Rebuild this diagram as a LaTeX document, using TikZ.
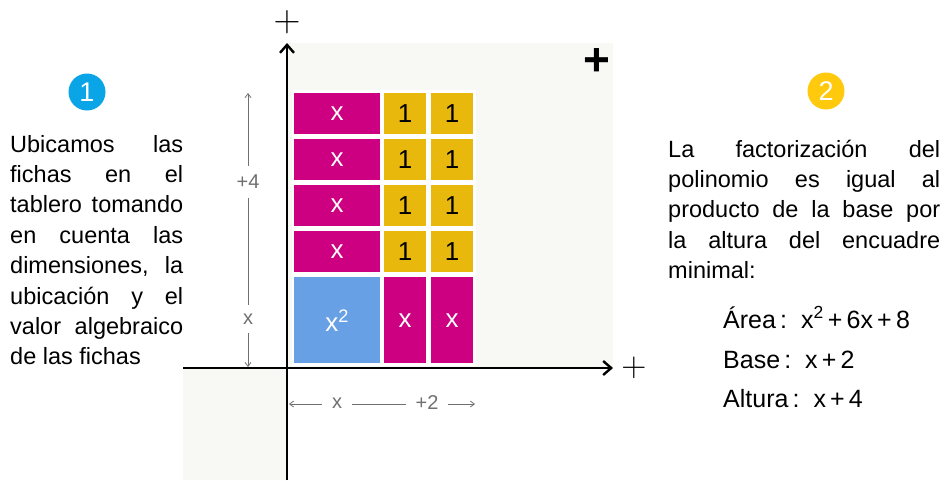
\documentclass[tikz,border=0pt]{standalone}
\usepackage{fontspec}
\setmainfont{Liberation Sans}
\usetikzlibrary{arrows.meta}
\definecolor{fucsia}{HTML}{CC0080}
\definecolor{amarillo}{HTML}{E8B80C}
\definecolor{celeste}{HTML}{67A0E4}
\definecolor{fondo}{HTML}{F8F8F4}
\definecolor{cian}{HTML}{0AA5E6}
\definecolor{oro}{HTML}{FFC90E}
\definecolor{cota}{HTML}{707070}
\newcommand\finoplus{\fontencoding{OT1}\fontfamily{cmr}\fontsize{24.88}{25}\selectfont}
\tikzset{
  ficha/.style={inner sep=0pt, anchor=north west, font=\fontsize{26}{26}\selectfont},
  fichax/.style={ficha, fill=fucsia, text=white, minimum width=86pt, minimum height=41pt},
  ficha1/.style={ficha, fill=amarillo, text=black, minimum width=42pt, minimum height=41pt},
  eje/.style={line width=2.4pt, -{Straight Barb[length=8pt,width=14pt]}},
  medida/.style={cota, line width=0.8pt, {Straight Barb[length=4pt,width=6pt]}-{Straight Barb[length=4pt,width=6pt]}},
  rotulo/.style={fill=white, text=cota, inner xsep=10pt, inner ysep=9pt, font=\fontsize{20}{20}\selectfont},
  paso/.style={circle, minimum size=37pt, inner sep=0pt, text=white, font=\fontsize{27}{27}\selectfont},
  parrafo/.style={anchor=base west, inner sep=0pt, align=justify, font=\fontsize{23.5}{30.4}\selectfont},
  formula/.style={anchor=base west, inner sep=0pt, font=\fontsize{25}{25}\selectfont},
  signo/.style={inner sep=0pt, font=\finoplus}
}
\begin{document}
\begin{tikzpicture}[x=1pt,y=-1pt]
  \useasboundingbox (0,0) rectangle (945,480);
  \tolerance=10000 \hbadness=10000
  % tablero: cuadrantes sombreados
  \fill[fondo] (287,43) rectangle (613,368);
  \fill[fondo] (183,368) rectangle (287,480);
  \fill[white] (292,90) rectangle (476,366);
  % ejes
  \coordinate (xini) at (183,368);
  \coordinate (xfin) at (613,368);
  \coordinate (yini) at (287,480);
  \coordinate (yfin) at (287,43);
  \draw[eje] (xini) -- (xfin);
  \draw[eje] (yini) -- (yfin);
  \node[signo] (masy) at (287,22) {\scalebox{1.5}{+}};
  \node[signo] (masx) at (634,368) {\scalebox{1.4}{+}};
  \node[inner sep=0pt, font=\fontsize{46}{46}\selectfont\bfseries] (mas) at (597,62) {+};
  % fichas
  \foreach \f in {1,...,4} {
    \node[fichax] (x\f) at (294,{93+46*(\f-1)}) {x};
    \node[ficha1] (a\f) at (384,{93+46*(\f-1)}) {1};
    \node[ficha1] (b\f) at (431,{93+46*(\f-1)}) {1};
  }
  \node[fichax, fill=celeste, minimum height=86pt] (xx) at (294,277) {x\textsuperscript{2}};
  \node[fichax, minimum width=42pt, minimum height=86pt] (xa) at (384,277) {x};
  \node[fichax, minimum width=42pt, minimum height=86pt] (xb) at (431,277) {x};
  % medidas
  \coordinate (alto1) at (248,93);
  \coordinate (alto2) at (248,367);
  \coordinate (base1) at (289,404);
  \coordinate (base2) at (475,404);
  \draw[medida] (alto1) -- (alto2);
  \draw[medida] (base1) -- (base2);
  \node[rotulo] (cuatro) at (248,182) {+4};
  \node[rotulo] (altox) at (248,319) {x};
  \node[rotulo] (basex) at (337,403) {x};
  \node[rotulo] (dos) at (427,403) {+2};
  % pasos
  \node[paso, fill=cian] (p1) at (87,92) {1};
  \node[paso, fill=oro] (p2) at (826,91) {2};
  \node[parrafo, text width=173pt] (t1) at (10,152) {Ubicamos las\linebreak
    fichas en el\linebreak tablero tomando\linebreak en cuenta las\linebreak
    dimensiones, la\linebreak ubicación y el\linebreak valor algebraico\linebreak
    de las fichas};
  \node[parrafo, text width=272pt] (t2) at (668,157) {La factorización del\linebreak
    polinomio es igual al\linebreak producto de la base por\linebreak
    la altura del encuadre\linebreak minimal:};
  \node[formula] (area) at (723,328) {Área\,:\ \ x\textsuperscript{2}\,+\,6x\,+\,8};
  \node[formula] (base) at (723,368) {Base\,:\ \ x\,+\,2};
  \node[formula] (altura) at (723,407) {Altura\,:\ \ x\,+\,4};
\end{tikzpicture}
\end{document}
